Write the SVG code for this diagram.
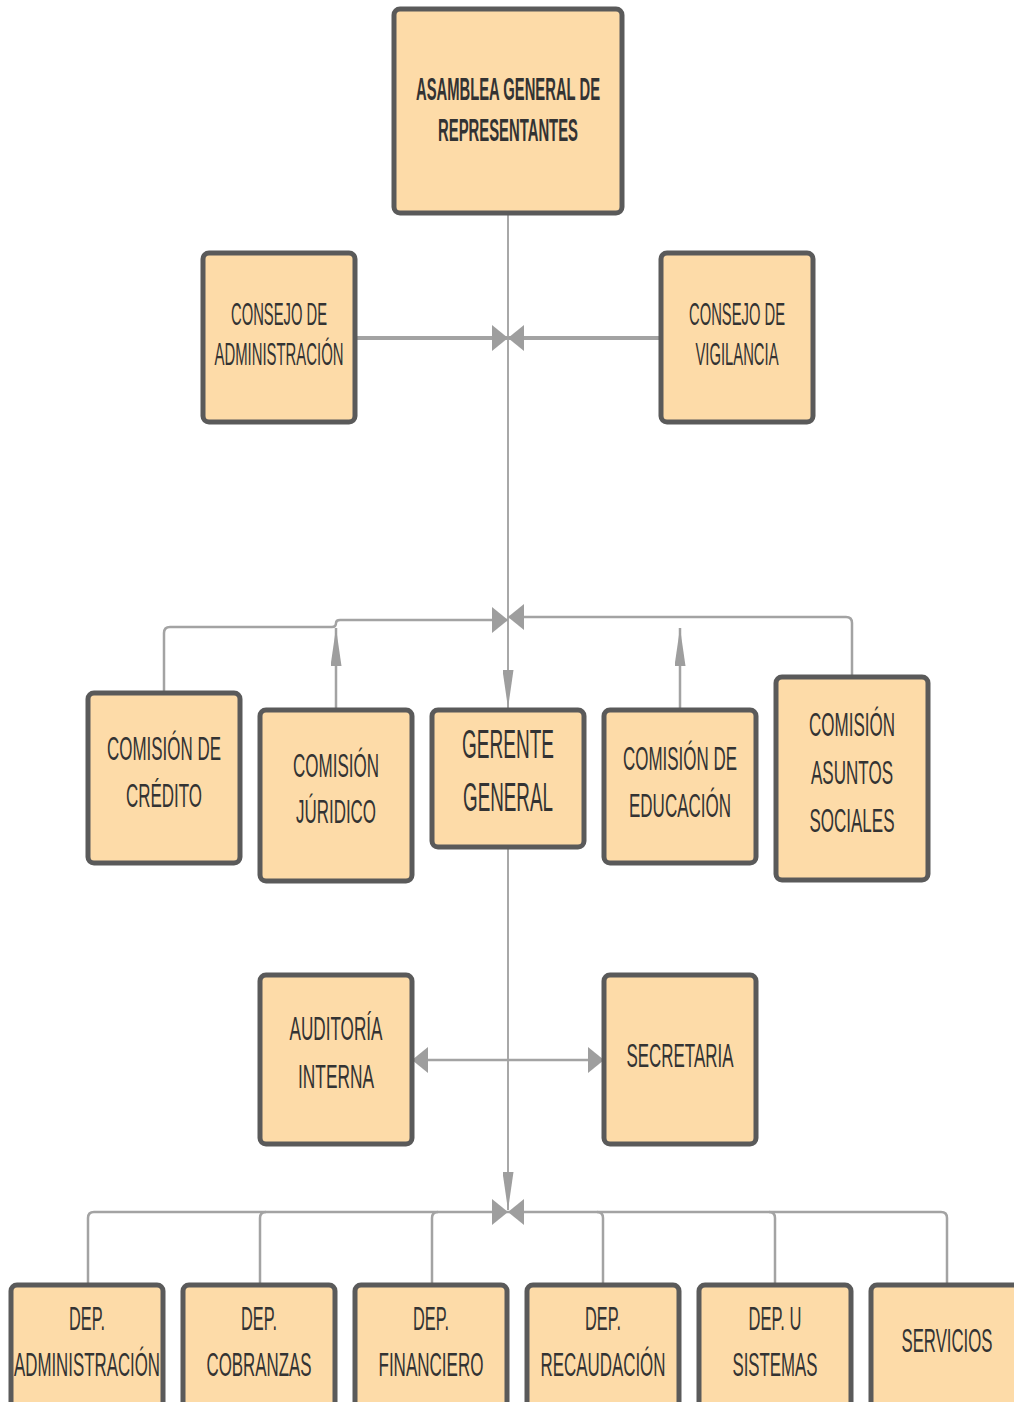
<svg xmlns="http://www.w3.org/2000/svg" width="1014" height="1402" viewBox="0 0 1014 1402">
<style>
.box{fill:#FDDBA8;stroke:#5a5a5a;stroke-width:5}
.t{font-family:"Liberation Sans",Arial,sans-serif;fill:#333;text-anchor:middle}
.b{font-weight:bold;font-size:31px}
.s{font-size:32px}
.m{font-size:34px}
.g{font-size:40px}
.c{fill:none;stroke:#a3a3a3;stroke-width:2.5}
.c2{fill:none;stroke:#a3a3a3;stroke-width:4}
.c1{fill:none;stroke:#a8a8a8;stroke-width:2}
</style>
<defs>
<marker id="mh" markerUnits="userSpaceOnUse" viewBox="0 0 16 26" refX="16" refY="13" markerWidth="16" markerHeight="26" orient="auto-start-reverse"><path d="M0,0 L16,13 L0,26 Z" fill="#9e9e9e"/></marker>
<marker id="mv" markerUnits="userSpaceOnUse" viewBox="0 0 38 11" refX="38" refY="5.5" markerWidth="38" markerHeight="11" orient="auto"><path d="M0,0 L38,5.5 L0,11 Z" fill="#9e9e9e"/></marker>
</defs>
<rect width="1014" height="1402" fill="#fff"/>
<g id="connectors">
<path class="c1" d="M508,213 V708" marker-end="url(#mv)"/>
<path class="c2" d="M355,338 H508" marker-end="url(#mh)"/>
<path class="c2" d="M661,338 H508" marker-end="url(#mh)"/>
<path class="c" d="M164,693 V633 Q164,627 170,627 H332 Q336,627 336,623 Q336,620 340,620 H508" marker-end="url(#mh)"/>
<path class="c" d="M336,710 V628" marker-end="url(#mv)"/>
<path class="c" d="M852,677 V623 Q852,617 846,617 H508" marker-end="url(#mh)"/>
<path class="c" d="M680,710 V628" marker-end="url(#mv)"/>
<path class="c1" d="M508,847 V1210" marker-end="url(#mv)"/>
<path class="c" d="M412,1060 H604" marker-start="url(#mh)" marker-end="url(#mh)"/>
<path class="c" d="M88,1285 V1218 Q88,1212 94,1212 H508" marker-end="url(#mh)"/>
<path class="c" d="M260,1285 V1218 Q260,1212 266,1212"/>
<path class="c" d="M432,1285 V1218 Q432,1212 438,1212"/>
<path class="c" d="M947,1285 V1218 Q947,1212 941,1212 H508" marker-end="url(#mh)"/>
<path class="c" d="M775,1285 V1218 Q775,1212 769,1212"/>
<path class="c" d="M603,1285 V1218 Q603,1212 597,1212"/>
</g>
<g id="asamblea"><rect class="box" x="394" y="9" width="228" height="204" rx="6"/>
<text class="t b" transform="scale(0.5,1)" x="1016" y="100" textLength="368" lengthAdjust="spacingAndGlyphs">ASAMBLEA GENERAL DE</text>
<text class="t b" transform="scale(0.5,1)" x="1016" y="141" textLength="280" lengthAdjust="spacingAndGlyphs">REPRESENTANTES</text></g>
<g id="consejo-admin"><rect class="box" x="203" y="253" width="152" height="169" rx="6"/>
<text class="t s" transform="scale(0.5,1)" x="558" y="325" textLength="192" lengthAdjust="spacingAndGlyphs">CONSEJO DE</text>
<text class="t s" transform="scale(0.5,1)" x="558" y="365" textLength="258" lengthAdjust="spacingAndGlyphs">ADMINISTRACIÓN</text></g>
<g id="consejo-vigilancia"><rect class="box" x="661" y="253" width="152" height="169" rx="6"/>
<text class="t s" transform="scale(0.5,1)" x="1474" y="325" textLength="192" lengthAdjust="spacingAndGlyphs">CONSEJO DE</text>
<text class="t s" transform="scale(0.5,1)" x="1474" y="365" textLength="166" lengthAdjust="spacingAndGlyphs">VIGILANCIA</text></g>
<g id="comision-credito"><rect class="box" x="88" y="693" width="152" height="170" rx="6"/>
<text class="t m" transform="scale(0.5,1)" x="328" y="760" textLength="228" lengthAdjust="spacingAndGlyphs">COMISIÓN DE</text>
<text class="t m" transform="scale(0.5,1)" x="328" y="807" textLength="152" lengthAdjust="spacingAndGlyphs">CRÉDITO</text></g>
<g id="comision-juridico"><rect class="box" x="260" y="710" width="152" height="171" rx="6"/>
<text class="t m" transform="scale(0.5,1)" x="672" y="777" textLength="172" lengthAdjust="spacingAndGlyphs">COMISIÓN</text>
<text class="t m" transform="scale(0.5,1)" x="672" y="823" textLength="160" lengthAdjust="spacingAndGlyphs">JÚRIDICO</text></g>
<g id="gerente"><rect class="box" x="432" y="710" width="152" height="137" rx="6"/>
<text class="t g" transform="scale(0.5,1)" x="1016" y="758" textLength="184" lengthAdjust="spacingAndGlyphs">GERENTE</text>
<text class="t g" transform="scale(0.5,1)" x="1016" y="811" textLength="180" lengthAdjust="spacingAndGlyphs">GENERAL</text></g>
<g id="comision-educacion"><rect class="box" x="604" y="710" width="152" height="153" rx="6"/>
<text class="t m" transform="scale(0.5,1)" x="1360" y="770" textLength="228" lengthAdjust="spacingAndGlyphs">COMISIÓN DE</text>
<text class="t m" transform="scale(0.5,1)" x="1360" y="817" textLength="204" lengthAdjust="spacingAndGlyphs">EDUCACIÓN</text></g>
<g id="comision-asuntos"><rect class="box" x="776" y="677" width="152" height="203" rx="6"/>
<text class="t m" transform="scale(0.5,1)" x="1704" y="736" textLength="172" lengthAdjust="spacingAndGlyphs">COMISIÓN</text>
<text class="t m" transform="scale(0.5,1)" x="1704" y="784" textLength="164" lengthAdjust="spacingAndGlyphs">ASUNTOS</text>
<text class="t m" transform="scale(0.5,1)" x="1704" y="832" textLength="170" lengthAdjust="spacingAndGlyphs">SOCIALES</text></g>
<g id="auditoria"><rect class="box" x="260" y="975" width="152" height="169" rx="6"/>
<text class="t m" transform="scale(0.5,1)" x="672" y="1040" textLength="186" lengthAdjust="spacingAndGlyphs">AUDITORÍA</text>
<text class="t m" transform="scale(0.5,1)" x="672" y="1088" textLength="152" lengthAdjust="spacingAndGlyphs">INTERNA</text></g>
<g id="secretaria"><rect class="box" x="604" y="975" width="152" height="169" rx="6"/>
<text class="t m" transform="scale(0.5,1)" x="1360" y="1067" textLength="214" lengthAdjust="spacingAndGlyphs">SECRETARIA</text></g>
<g id="dep-administracion"><rect class="box" x="11" y="1285" width="152" height="140" rx="6"/>
<text class="t m" transform="scale(0.5,1)" x="174" y="1330" textLength="72" lengthAdjust="spacingAndGlyphs">DEP.</text>
<text class="t m" transform="scale(0.5,1)" x="174" y="1376" textLength="292" lengthAdjust="spacingAndGlyphs">ADMINISTRACIÓN</text></g>
<g id="dep-cobranzas"><rect class="box" x="183" y="1285" width="152" height="140" rx="6"/>
<text class="t m" transform="scale(0.5,1)" x="518" y="1330" textLength="72" lengthAdjust="spacingAndGlyphs">DEP.</text>
<text class="t m" transform="scale(0.5,1)" x="518" y="1376" textLength="210" lengthAdjust="spacingAndGlyphs">COBRANZAS</text></g>
<g id="dep-financiero"><rect class="box" x="355" y="1285" width="152" height="140" rx="6"/>
<text class="t m" transform="scale(0.5,1)" x="862" y="1330" textLength="72" lengthAdjust="spacingAndGlyphs">DEP.</text>
<text class="t m" transform="scale(0.5,1)" x="862" y="1376" textLength="210" lengthAdjust="spacingAndGlyphs">FINANCIERO</text></g>
<g id="dep-recaudacion"><rect class="box" x="527" y="1285" width="152" height="140" rx="6"/>
<text class="t m" transform="scale(0.5,1)" x="1206" y="1330" textLength="72" lengthAdjust="spacingAndGlyphs">DEP.</text>
<text class="t m" transform="scale(0.5,1)" x="1206" y="1376" textLength="250" lengthAdjust="spacingAndGlyphs">RECAUDACIÓN</text></g>
<g id="dep-sistemas"><rect class="box" x="699" y="1285" width="152" height="140" rx="6"/>
<text class="t m" transform="scale(0.5,1)" x="1550" y="1330" textLength="106" lengthAdjust="spacingAndGlyphs">DEP. U</text>
<text class="t m" transform="scale(0.5,1)" x="1550" y="1376" textLength="170" lengthAdjust="spacingAndGlyphs">SISTEMAS</text></g>
<g id="servicios"><rect class="box" x="871" y="1285" width="152" height="140" rx="6"/>
<text class="t m" transform="scale(0.5,1)" x="1894" y="1352" textLength="182" lengthAdjust="spacingAndGlyphs">SERVICIOS</text></g>
</svg>
